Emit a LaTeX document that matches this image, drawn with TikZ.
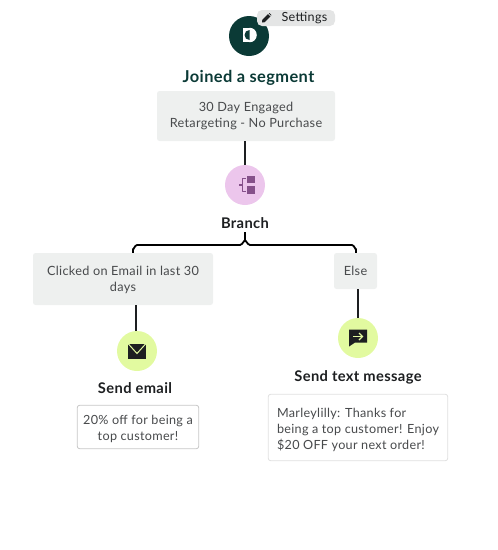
\documentclass[tikz,border=0pt]{standalone}
\usepackage{fontspec}
\setmainfont[LetterSpace=2.5]{Lato}
\definecolor{tealdk}{HTML}{0B3A36}
\definecolor{boxgray}{HTML}{EEF0EF}
\definecolor{txtgray}{HTML}{484A4C}
\definecolor{ink}{HTML}{1D1F21}
\definecolor{pinkc}{HTML}{ECC6EC}
\definecolor{purp}{HTML}{85508A}
\definecolor{limec}{HTML}{E2FAA0}
\definecolor{pill}{HTML}{E4E5E5}
\newcommand{\lowered}[3]{\raisebox{-#1pt}[\height][\depth]{\begin{tabular}{@{}#2@{}}#3\end{tabular}}}
\tikzset{
  x=1pt,y=-1pt,
  circ/.style={circle,inner sep=0pt,minimum size=40pt},
  graybox/.style={rectangle,rounded corners=2.5pt,fill=boxgray,inner sep=0pt,align=center,text=txtgray,font=\fontsize{12.7}{16}\selectfont},
  msgbox/.style={rectangle,rounded corners=2.5pt,fill=white,inner sep=0pt,text=txtgray,font=\fontsize{12.6}{16}\selectfont},
  stepname/.style={inner sep=0pt,text=ink,font=\fontsize{14.7}{16}\selectfont\bfseries},
  link/.style={draw=ink,line width=2.1pt}
}
\begin{document}
\begin{tikzpicture}
\useasboundingbox (0,0) rectangle (498,550);
% nodes
\node[circ,fill=tealdk] (start) at (249,36) {};
\node[rectangle,rounded corners=5pt,fill=pill,minimum width=78pt,minimum height=16pt,inner sep=0pt] (settings) at (296,18) {};
\node[inner sep=0pt,text=ink,font=\fontsize{12.6}{14}\selectfont] (settingstxt) at (304.5,18) {Settings};
\node[inner sep=0pt,text=tealdk,font=\fontsize{16.4}{18}\selectfont\bfseries] (title) at (248.5,77.7) {Joined a segment};
\node[graybox,minimum width=178pt,minimum height=50pt] (seg) at (246,116) {30 Day Engaged\\Retargeting - No Purchase};
\node[circ,fill=pinkc] (branch) at (245,185) {};
\node[stepname] (branchname) at (245,223.5) {Branch};
\node[graybox,minimum width=180pt,minimum height=52pt] (clicked) at (123,279) {\lowered{1.7}{c}{Clicked on Email in last 30\\days}};
\node[graybox,minimum width=43pt,minimum height=36pt] (else) at (355.5,271) {\lowered{1}{c}{Else}};
\node[circ,fill=limec] (email) at (137,351) {};
\node[stepname] (emailname) at (135,388.5) {Send email};
\node[msgbox,draw=black!22,line width=.8pt,minimum width=121.5pt,minimum height=43.5pt] (emailmsg) at (138,427) {\lowered{2}{c}{20\% off for being a\\top customer!}};
\node[circ,fill=limec] (sms) at (358,338) {};
\node[stepname] (smsname) at (358,377.3) {Send text message};
\node[msgbox,draw=black!12,line width=.8pt,minimum width=179.5pt,minimum height=66.5pt] (smsmsg) at (358,427.5) {\lowered{2.5}{l}{Marleylilly: Thanks for\\being a top customer! Enjoy\\\$20 OFF your next order!}};
% connectors
\coordinate (stem) at (245,232);
\coordinate (split) at (245,241);
\coordinate (hleft) at (133,245);
\coordinate (hright) at (356,245);
\draw[link] (seg.south -| branch.north) -- (branch.north);
\draw[link] (clicked.south -| 136,0) -- (email.north -| 136,0);
\draw[link] (else.south -| sms.north) -- (sms.north);
\draw[line width=2.1pt,black] (stem) -- (split);
\draw[draw=black,line width=1.8pt,line join=round] (clicked.north -| hleft) -- (133,249) to[out=-90,in=180] (137,245) -- (240,245) to[out=0,in=90] (245,241) to[out=90,in=180] (250,245) -- (352,245) to[out=0,in=-90] (356,249) -- (else.north -| hright);
% start icon
\begin{scope}[shift={(249.5,35)}]
\fill[white] (0,-7.3) -- (-6.5,-7.3) -- (-6.5,7.3) -- (0,7.3) -- cycle;
\fill[white] (0,-7.3) arc[start angle=90,end angle=-90,radius=7.3pt] -- cycle;
\fill[tealdk] (0,-5) arc[start angle=90,end angle=270,radius=5pt] -- cycle;
\end{scope}
% pencil icon
\begin{scope}[shift={(266.5,18)}]
\fill[ink] (-4.5,4.5) -- (-4.2,1.8) -- (1.5,-3.8) -- (3.9,-1.4) -- (-1.8,4.2) -- cycle;
\fill[ink] (2.3,-4.6) -- (3,-5) -- (4.9,-3.1) -- (4.6,-2.3) -- cycle;
\end{scope}
% branch icon
\begin{scope}[shift={(branch.center)}]
\fill[purp] (2.3,-9.3) rectangle (10.3,-1.7);
\fill[purp] (2.3,1) rectangle (10.3,9);
\draw[purp,line width=1.8pt,line join=round] (0.8,-6.5) -- (-2.5,-6.5) -- (-2.5,6.5) -- (0.8,6.5);
\draw[purp,line width=1.8pt] (-2.5,0) -- (-6.5,0);
\end{scope}
% envelope icon
\begin{scope}[shift={(email.center)}]
\fill[ink] (-9,-7.5) rectangle (9,7.5);
\draw[limec,line width=1pt,line join=miter] (-9,-7.5) -- (0,2.5) -- (9,-7.5);
\end{scope}
% sms icon
\begin{scope}[shift={(sms.center)}]
\fill[ink] (-9,-8.5) -- (9,-8.5) -- (9,4.5) -- (-3,4.5) -- (-9,8.5) -- cycle;
\draw[limec,line width=1.1pt] (-5,-1.5) -- (4,-1.5);
\draw[limec,line width=1.1pt] (1,-5) -- (4.5,-1.5) -- (1,2);
\end{scope}
\end{tikzpicture}
\end{document}
